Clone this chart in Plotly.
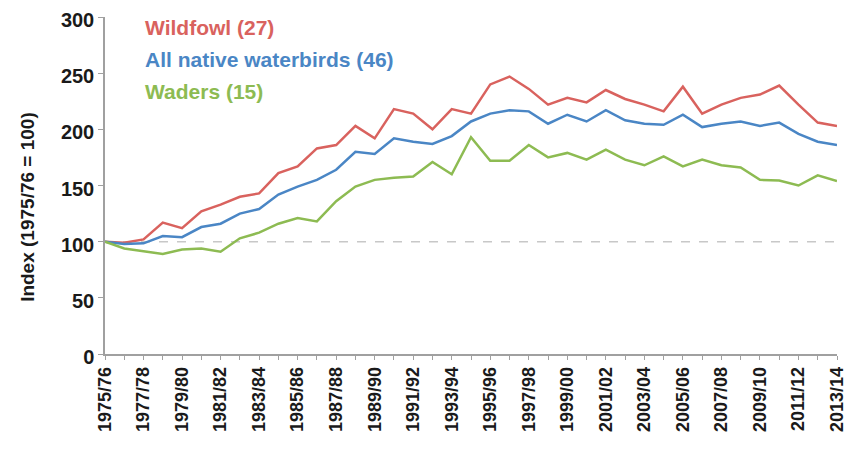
import plotly.graph_objects as go

seasons = [f"{y}/{str(y + 1)[-2:]}" for y in range(1975, 2014)]

wildfowl = [100, 99, 102, 117, 112, 127, 133, 140, 143, 161, 167, 183, 186, 203, 192, 218, 214, 200, 218, 214,
            240, 247, 236, 222, 228, 224, 235, 227, 222, 216, 238, 214, 222, 228, 231, 239, 222, 206, 203]
all_native = [100, 98, 98.5, 105, 104, 113, 116, 125, 129, 142, 149, 155, 164, 180, 178, 192, 189, 187, 194, 207,
              214, 217, 216, 205, 213, 207, 217, 208, 205, 204, 213, 202, 205, 207, 203, 206, 196, 189, 186]
waders = [100, 94, 91.5, 89, 93, 94, 91, 103, 108, 116, 121, 118, 136, 149, 155, 157, 158, 171, 160, 193,
          172, 172, 186, 175, 179, 173, 182, 173, 168, 176, 167, 173, 168, 166, 155, 154.5, 150, 159, 154]

series_names = ["Wildfowl (27)", "All native waterbirds (46)", "Waders (15)"]
series_colors = ["#D9625E", "#4A86C5", "#8DBB52"]
series_values = [wildfowl, all_native, waders]

tick_text = [s if i % 2 == 0 else "" for i, s in enumerate(seasons)]

FONT = "Liberation Sans"

fig = go.Figure()

# reference line at 100
fig.add_trace(go.Scatter(x=seasons, y=[100] * len(seasons), mode="lines",
                         line=dict(color="#C8C8C8", width=1.5, dash="dash"),
                         showlegend=False, hoverinfo="skip"))

for name, color, vals in zip(series_names, series_colors, series_values):
    fig.add_trace(go.Scatter(x=seasons, y=vals, mode="lines", name=name,
                             line=dict(color=color, width=2.5), showlegend=False))

for k, (name, color) in enumerate(zip(series_names, series_colors)):
    fig.add_annotation(x=0.052, y=0.968 - k * 0.094, xref="paper", yref="paper",
                       text=f"<b>{name}</b>", showarrow=False, xanchor="left", yanchor="middle",
                       font=dict(family=FONT, size=21, color=color))

# y-axis title
fig.add_annotation(x=-0.105, y=0.437, xref="paper", yref="paper",
                   text="<b>Index (1975/76 = 100)</b>", textangle=-90, showarrow=False,
                   xanchor="center", yanchor="middle",
                   font=dict(family=FONT, size=19, color="#1a1a1a"))

fig.update_layout(
    width=842, height=438,
    margin=dict(l=97, r=13, t=9, b=92),
    paper_bgcolor="white", plot_bgcolor="white",
    font=dict(family=FONT, color="#1a1a1a"),
    xaxis=dict(
        type="category", tickmode="array", tickvals=seasons, ticktext=tick_text,
        tickangle=-90, tickfont=dict(family=FONT, size=18, color="#1a1a1a", weight="bold"),
        showline=True, linecolor="#A0A0A0", linewidth=1.5,
        ticks="outside", ticklen=4, tickcolor="#A0A0A0",
        showgrid=False, zeroline=False, range=[0, len(seasons) - 1], automargin=False,
        ticklabeloverflow="allow",
    ),
    yaxis=dict(
        range=[0, 300], tickvals=[0, 50, 100, 150, 200, 250, 300],
        tickfont=dict(family=FONT, size=20, color="#1a1a1a", weight="bold"),
        showline=True, linecolor="#A0A0A0", linewidth=1.5,
        ticks="outside", ticklen=5, tickcolor="#A0A0A0",
        showgrid=False, zeroline=False, automargin=False,
        ticklabeloverflow="allow", ticklabelshift=3,
    ),
)

fig.write_html("out.html")
